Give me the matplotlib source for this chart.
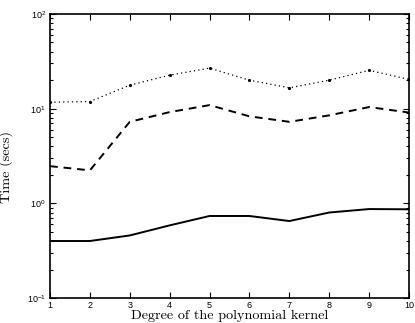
import matplotlib
matplotlib.use("Agg")
import math
import matplotlib.pyplot as plt
from matplotlib.ticker import LogLocator, FixedLocator, NullFormatter, FuncFormatter

degrees = [1, 2, 3, 4, 5, 6, 7, 8, 9, 10]
time_dotted = [11.7, 11.9, 17.7, 22.6, 26.8, 20.0, 16.6, 20.0, 25.4, 20.4]
time_dashed = [2.47, 2.23, 7.26, 9.2, 10.9, 8.3, 7.26, 8.5, 10.4, 9.1]
time_solid = [0.40, 0.40, 0.458, 0.585, 0.735, 0.735, 0.65, 0.80, 0.87, 0.865]

plt.rcParams['mathtext.fontset'] = 'custom'
plt.rcParams['mathtext.rm'] = 'Liberation Sans'
plt.rcParams['mathtext.it'] = 'Liberation Sans'
plt.rcParams['font.family'] = ['Liberation Sans', 'DejaVu Sans']

fig = plt.figure(figsize=(4.15, 3.23), dpi=100)
ax = fig.add_axes([50/415, 1-298/323, 359/415, 284/323])

ax.plot(degrees, time_dotted, color='black', linestyle=(0, (1, 2.5)), linewidth=0.9,
        marker='.', markersize=2.5)
ax.plot(degrees, time_dashed, color='black', linestyle=(0, (4, 3)), linewidth=1.4)
ax.plot(degrees, time_solid, color='black', linestyle='-', linewidth=1.4)

ax.set_yscale('log')
ax.set_ylim(0.1, 100)
ax.set_xlim(1, 10)
ax.xaxis.set_major_locator(FixedLocator(degrees))
ax.yaxis.set_major_locator(LogLocator(base=10, numticks=10))
ax.yaxis.set_minor_locator(LogLocator(base=10, subs=range(2, 10), numticks=20))
ax.yaxis.set_minor_formatter(NullFormatter())

def fmt(v, pos):
    e = int(round(math.log10(v)))
    return r'$10^{%d}$' % e
ax.yaxis.set_major_formatter(FuncFormatter(fmt))

ax.tick_params(which='both', direction='in', top=True, right=True, labelsize=6.5, width=0.8)
ax.tick_params(which='major', length=4, pad=3)
ax.tick_params(axis='x', which='major', pad=2)
ax.tick_params(which='minor', length=2)
for s in ax.spines.values():
    s.set_linewidth(1.2)

ax.set_xlabel('Degree of the polynomial kernel', family='cmr10', fontsize=10.2, labelpad=0)
ax.set_ylabel('Time (secs)', family='cmr10', fontsize=10.2)
ax.yaxis.set_label_coords(-0.103, 0.46)

fig.savefig('out.png', dpi=100)
